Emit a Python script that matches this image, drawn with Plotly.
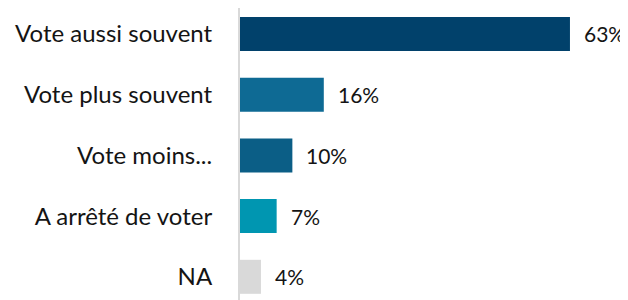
import plotly.graph_objects as go

categories = ["Vote aussi souvent", "Vote plus souvent", "Vote moins...", "A arrêté de voter", "NA"]
values = [63, 16, 10, 7, 4]
value_labels = ["63%", "16%", "10%", "7%", "4%"]
colors = ["#01416B", "#0E6A94", "#0B5E86", "#0096B1", "#D9D9D9"]

fig = go.Figure()
fig.add_trace(go.Bar(
    x=values, y=categories, orientation="h",
    marker=dict(color=colors, line=dict(width=0)),
    width=0.56, hoverinfo="skip",
))

for c, v, t in zip(categories, values, value_labels):
    fig.add_annotation(x=v, y=c, text=t, xanchor="left", yanchor="middle",
                       xshift=12, showarrow=False,
                       font=dict(family="Lato, Liberation Sans, Arial", size=21, color="#141414"))

fig.update_layout(
    width=620, height=292,
    margin=dict(l=232, r=13, t=0, b=0, autoexpand=False),
    paper_bgcolor="white", plot_bgcolor="white",
    showlegend=False,
    xaxis=dict(range=[0, 71.6], visible=False, fixedrange=True, automargin=False),
    yaxis=dict(
        categoryorder="array", categoryarray=categories,
        range=[4.382, -0.428], automargin=False,
        showline=True, linecolor="#D9D9D9", linewidth=2,
        showgrid=False, zeroline=False,
        ticks="outside", ticklen=21, tickcolor="rgba(0,0,0,0)",
        tickfont=dict(family="Lato, Liberation Sans, Arial", size=24, color="#141414"),
    ),
)

fig.write_html("out.html")
